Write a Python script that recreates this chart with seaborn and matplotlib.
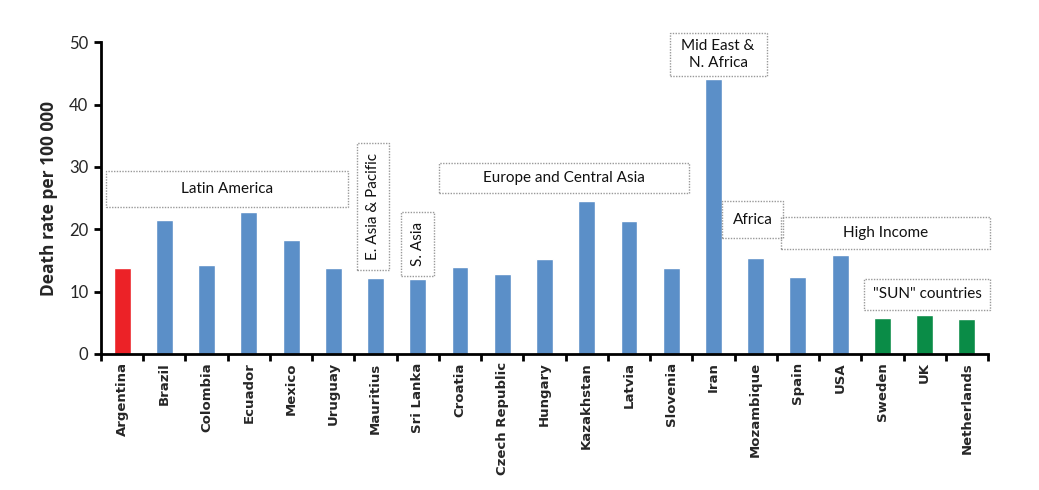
import pandas as pd
import seaborn as sns
import matplotlib.pyplot as plt
from matplotlib.patches import Rectangle

# -------------------------------------------------------------------
# data
# -------------------------------------------------------------------
countries = ['Argentina', 'Brazil', 'Colombia', 'Ecuador', 'Mexico', 'Uruguay',
             'Mauritius', 'Sri Lanka', 'Croatia', 'Czech Republic', 'Hungary',
             'Kazakhstan', 'Latvia', 'Slovenia', 'Iran', 'Mozambique', 'Spain',
             'USA', 'Sweden', 'UK', 'Netherlands']
death_rate = [13.8, 21.5, 14.3, 22.8, 18.3, 13.8, 12.2, 12.0, 14.0, 12.9, 15.2,
              24.6, 21.4, 13.8, 44.1, 15.4, 12.4, 15.8, 5.7, 6.3, 5.6]
group = ['focus'] + ['other'] * 17 + ['sun'] * 3

# region boxes: label, x0, x1, y0, y1, rotated
regions = [
    ('Latin America', -0.37, 5.34, 23.6, 29.3, False),
    ('E. Asia & Pacific', 5.55, 6.33, 13.4, 33.8, True),
    ('S. Asia', 6.60, 7.39, 12.55, 22.8, True),
    ('Europe and Central Asia', 7.51, 13.43, 25.75, 30.7, False),
    ('Mid East &\nN. Africa', 12.96, 15.26, 44.5, 51.5, False),
    ('Africa', 14.21, 15.65, 18.6, 24.5, False),
    ('High Income', 15.6, 20.55, 16.9, 22.0, False),
    ('"SUN" countries', 17.56, 20.55, 7.05, 12.07, False),
]

df = pd.DataFrame({'Country': countries, 'Rate': death_rate, 'Group': group})
palette = {'focus': '#EC2227', 'other': '#5B8FC8', 'sun': '#0A8C47'}

sns.set_theme(style='white')
plt.rcParams['font.family'] = ['Lato', 'DejaVu Sans']

fig = plt.figure(figsize=(10.39, 4.9), dpi=100)
ax = fig.add_axes([0.0972, 0.2776, 0.8537, 0.6364])

sns.barplot(data=df, x='Country', y='Rate', hue='Group', palette=palette,
            order=countries, dodge=False, width=0.4, legend=False, ax=ax,
            saturation=1)

ax.set_xlim(-0.5, len(countries) - 0.5)
ax.set_ylim(0, 50)
ax.set_yticks(range(0, 51, 10))
ax.set_xlabel('')
ax.set_ylabel('Death rate per 100 000', fontsize=12.5, fontweight='bold',
              labelpad=8, family=['Open Sans'])

sns.despine(ax=ax)
for side in ['left', 'bottom']:
    ax.spines[side].set_linewidth(2)
    ax.spines[side].set_color('black')

ax.tick_params(axis='y', direction='out', length=5, width=2, color='black',
               labelsize=12, left=True, pad=4)
ax.set_xticks(range(len(countries)))
ax.set_xticklabels(countries, rotation=90, fontweight='bold', fontsize=9.5,
                   family=['DejaVu Sans'])
ax.tick_params(axis='x', length=0, pad=6)
ax.set_xticks([i - 0.5 for i in range(len(countries) + 1)], minor=True)
ax.tick_params(axis='x', which='minor', direction='out', length=5, width=2,
               color='black', bottom=True)

for label, x0, x1, y0, y1, rot in regions:
    ax.add_patch(Rectangle((x0, y0), x1 - x0, y1 - y0, fill=False,
                           edgecolor='#999999', linestyle=(0, (1, 1)),
                           linewidth=1, clip_on=False))
    ax.text((x0 + x1) / 2, (y0 + y1) / 2, label, ha='center', va='center',
            fontsize=11, rotation=90 if rot else 0, color='#111111',
            linespacing=1.25, clip_on=False)

fig.savefig('out.png', dpi=100)
